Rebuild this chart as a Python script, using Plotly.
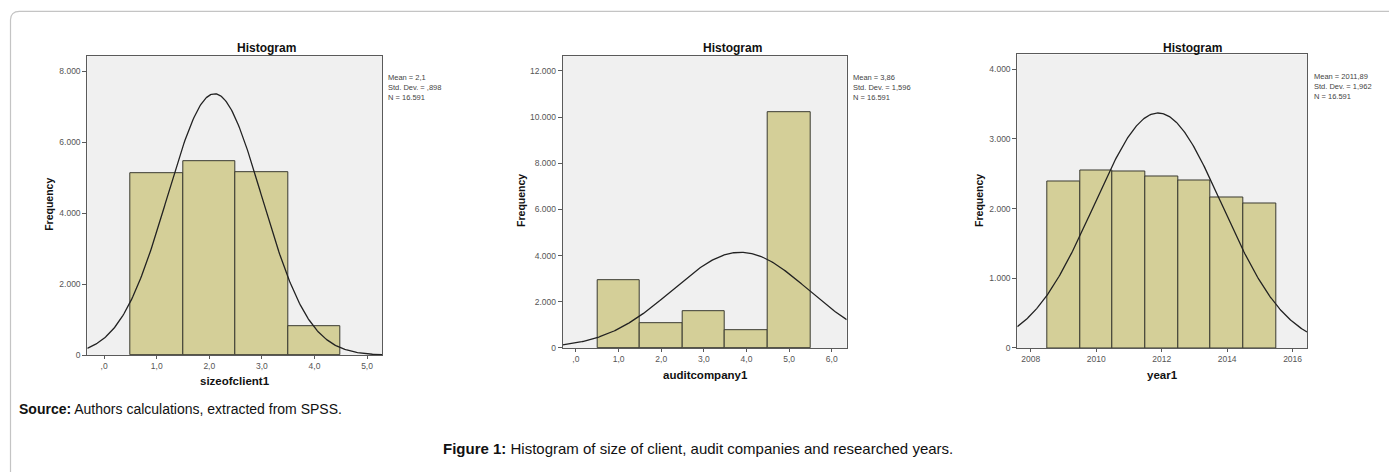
import numpy as np
import plotly.graph_objects as go

# The page body has an 8px margin, so the figure is drawn 8px in from the window edge.
OFF = 8
W, H = 1397 - OFF, 472 - OFF

# ---------------- data ----------------
size_bins = [1, 2, 3, 4]
size_freq = [5140, 5470, 5160, 820]
size_mean, size_sd, size_n = 2.1, 0.898, 16591
size_xticks = [0, 1, 2, 3, 4, 5]
size_xticktext = [",0", "1,0", "2,0", "3,0", "4,0", "5,0"]
size_yticks = [0, 2000, 4000, 6000, 8000]
size_yticktext = ["0", "2.000", "4.000", "6.000", "8.000"]

audit_bins = [1, 2, 3, 4, 5]
audit_freq = [2930, 1075, 1605, 760, 10221]
audit_mean, audit_sd, audit_n = 3.86, 1.596, 16591
audit_xticks = [0, 1, 2, 3, 4, 5, 6]
audit_xticktext = [",0", "1,0", "2,0", "3,0", "4,0", "5,0", "6,0"]
audit_yticks = [0, 2000, 4000, 6000, 8000, 10000, 12000]
audit_yticktext = ["0", "2.000", "4.000", "6.000", "8.000", "10.000", "12.000"]

year_bins = [2009, 2010, 2011, 2012, 2013, 2014, 2015]
year_freq = [2390, 2555, 2540, 2455, 2405, 2160, 2080]
year_mean, year_sd, year_n = 2011.89, 1.962, 16591
year_xticks = [2008, 2010, 2012, 2014, 2016]
year_xticktext = ["2008", "2010", "2012", "2014", "2016"]
year_yticks = [0, 1000, 2000, 3000, 4000]
year_yticktext = ["0", "1.000", "2.000", "3.000", "4.000"]

stats_texts = [
    "Mean = 2,1<br>Std. Dev. = ,898<br>N = 16.591",
    "Mean = 3,86<br>Std. Dev. = 1,596<br>N = 16.591",
    "Mean = 2011,89<br>Std. Dev. = 1,962<br>N = 16.591",
]
x_titles = ["sizeofclient1", "auditcompany1", "year1"]

# ---------------- layout helpers (screen pixels -> paper) ----------------
def px(x):
    return (x - OFF) / W

def py(y):
    return 1 - (y - OFF) / H

FONT = "Liberation Sans, Arial, sans-serif"
BAR_FILL = "#d4cf98"
BAR_LINE = "#3a3a30"
PLOT_BG = "#f0f0f0"
FRAME = "#5a5a5a"

panels = [
    dict(bins=size_bins, freq=size_freq, mean=size_mean, sd=size_sd, n=size_n,
         xt=size_xticks, xtt=size_xticktext, yt=size_yticks, ytt=size_yticktext,
         xdom=(87.3, 382.3), ydom=(56.7, 359.0), xr=(-0.32, 5.29), yr=(0, 8430),
         title_x=266, ylab_x=49, ylab_y=207, xlab_x=235, xlab_y=385,
         stats_x=386.5, stats_y=71.5),
    dict(bins=audit_bins, freq=audit_freq, mean=audit_mean, sd=audit_sd, n=audit_n,
         xt=audit_xticks, xtt=audit_xticktext, yt=audit_yticks, ytt=audit_yticktext,
         xdom=(562.7, 846.7), ydom=(56.7, 351.7), xr=(-0.31, 6.35), yr=(0, 12640),
         title_x=732, ylab_x=521, ylab_y=203, xlab_x=705, xlab_y=379,
         stats_x=851, stats_y=71.5),
    dict(bins=year_bins, freq=year_freq, mean=year_mean, sd=year_sd, n=year_n,
         xt=year_xticks, xtt=year_xticktext, yt=year_yticks, ytt=year_yticktext,
         xdom=(1017.3, 1307.0), ydom=(55.0, 351.7), xr=(2007.59, 2016.44), yr=(0, 4213),
         title_x=1192, ylab_x=979, ylab_y=203, xlab_x=1162, xlab_y=379,
         stats_x=1311.5, stats_y=70.5),
]

fig = go.Figure()
annotations = []
layout_axes = {}

for i, p in enumerate(panels, start=1):
    xa = "x" if i == 1 else f"x{i}"
    ya = "y" if i == 1 else f"y{i}"
    fig.add_trace(go.Bar(
        x=p["bins"], y=p["freq"], width=1.0,
        marker=dict(color=BAR_FILL, line=dict(color=BAR_LINE, width=1)),
        xaxis=xa, yaxis=ya, showlegend=False, hoverinfo="x+y",
    ))
    xs = np.linspace(p["xr"][0], p["xr"][1], 300)
    ys = p["n"] * np.exp(-0.5 * ((xs - p["mean"]) / p["sd"]) ** 2) / (p["sd"] * np.sqrt(2 * np.pi))
    fig.add_trace(go.Scatter(
        x=xs, y=ys, mode="lines", line=dict(color="#222222", width=1.3),
        xaxis=xa, yaxis=ya, showlegend=False, hoverinfo="skip",
    ))
    xkey = "xaxis" if i == 1 else f"xaxis{i}"
    ykey = "yaxis" if i == 1 else f"yaxis{i}"
    layout_axes[xkey] = dict(
        domain=[px(p["xdom"][0]), px(p["xdom"][1])], range=list(p["xr"]),
        anchor=ya, tickmode="array", tickvals=p["xt"], ticktext=p["xtt"],
        ticks="outside", ticklen=3, tickcolor=FRAME,
        showline=True, linecolor=FRAME, linewidth=1, mirror=True,
        showgrid=False, zeroline=False,
        tickfont=dict(family=FONT, size=8.5, color="#555555"),
    )
    layout_axes[ykey] = dict(
        domain=[py(p["ydom"][1]), py(p["ydom"][0])], range=list(p["yr"]),
        anchor=xa, tickmode="array", tickvals=p["yt"], ticktext=p["ytt"],
        ticks="outside", ticklen=4, tickcolor=FRAME,
        showline=True, linecolor=FRAME, linewidth=1, mirror=True,
        showgrid=False, zeroline=False,
        tickfont=dict(family=FONT, size=8.5, color="#555555"),
    )
    annotations += [
        dict(text="<b>Histogram</b>", x=px(p["title_x"]), y=py(48), xref="paper", yref="paper",
             xanchor="center", yanchor="middle", showarrow=False,
             font=dict(family=FONT, size=12, color="#111111")),
        dict(text="<b>Frequency</b>", x=px(p["ylab_x"]), y=py(p["ylab_y"]), xref="paper", yref="paper",
             xanchor="center", yanchor="middle", showarrow=False, textangle=-90,
             font=dict(family=FONT, size=10.5, color="#111111")),
        dict(text=f"<b>{x_titles[i-1]}</b>", x=px(p["xlab_x"]), y=py(p["xlab_y"]), xref="paper", yref="paper",
             xanchor="center", yanchor="middle", showarrow=False,
             font=dict(family=FONT, size=11.5, color="#111111")),
        dict(text=stats_texts[i-1], x=px(p["stats_x"]), y=py(p["stats_y"]), xref="paper", yref="paper",
             xanchor="left", yanchor="top", align="left", showarrow=False,
             font=dict(family=FONT, size=7.5, color="#444444")),
    ]

annotations += [
    dict(text="<b>Source:</b> Authors calculations, extracted from SPSS.",
         x=px(17), y=py(413), xref="paper", yref="paper", xanchor="left", yanchor="middle",
         showarrow=False, font=dict(family=FONT, size=14, color="#111111")),
    dict(text="<b>Figure 1:</b> Histogram of size of client, audit companies and researched years.",
         x=px(698), y=py(453), xref="paper", yref="paper", xanchor="center", yanchor="middle",
         showarrow=False, font=dict(family=FONT, size=15, color="#111111")),
]

# outer rounded page border (left and top edges visible)
border_path = (f"M {px(10.5)} {py(490)} L {px(10.5)} {py(20)} "
               f"Q {px(10.5)} {py(11.5)} {px(19.5)} {py(11.5)} L {px(1410)} {py(11.5)}")

fig.update_layout(
    width=W, height=H,
    margin=dict(l=0, r=0, t=0, b=0),
    paper_bgcolor="white", plot_bgcolor=PLOT_BG,
    bargap=0, showlegend=False,
    annotations=annotations,
    shapes=[dict(type="path", path=border_path, xref="paper", yref="paper",
                 line=dict(color="#c4c4c4", width=1.2), layer="below")],
    **layout_axes,
)

fig.write_html("out.html")
